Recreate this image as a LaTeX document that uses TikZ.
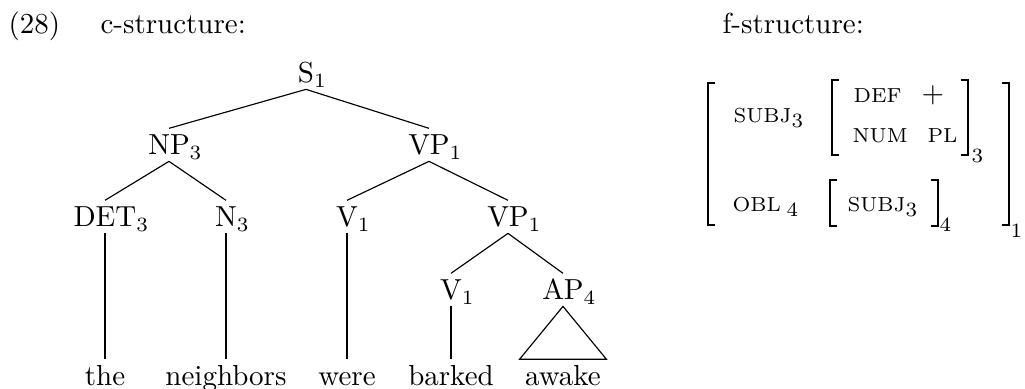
\documentclass[tikz,border=0pt]{standalone}
\newcommand{\att}[1]{{\scriptsize #1}}
\newcommand{\fsopen}[3]{\draw[brk] (#1+7,#2) -- (#1,#2) -- (#1,#3) -- (#1+7,#3);}
\newcommand{\fsclose}[3]{\draw[brk] (#1-7,#2) -- (#1,#2) -- (#1,#3) -- (#1-7,#3);}
\begin{document}
\begin{tikzpicture}[x=0.345pt,y=-0.345pt,
    cat/.style={anchor=base,inner sep=2pt,text height=7pt,text depth=0pt},
    fnode/.style={anchor=base west,inner sep=0pt},
    brk/.style={line width=0.6pt}]
  \useasboundingbox (0,0) rectangle (1025,389);
  % headings
  \node[fnode] (ex) at (8,34) {(28)};
  \node[fnode] (chead) at (100,34) {c-structure:};
  \node[fnode] (fhead) at (722,34) {f-structure:};
  % c-structure
  \node[cat] (s) at (306,83) {S\rlap{$_1$}};
  \node[cat] (np) at (169,155) {NP\rlap{$_3$}};
  \node[cat] (vp) at (429,155) {VP\rlap{$_1$}};
  \node[cat] (det) at (105,227) {DET\rlap{$_3$}};
  \node[cat] (n) at (226,227) {N\rlap{$_3$}};
  \node[cat] (v) at (347,227) {V\rlap{$_1$}};
  \node[cat] (vpb) at (508,227) {VP\rlap{$_1$}};
  \node[cat] (vb) at (451,300) {V\rlap{$_1$}};
  \node[cat] (ap) at (563,300) {AP\rlap{$_4$}};
  \foreach \w/\x/\nm in {the/105/the,neighbors/226/nbr,were/347/were,barked/451/bark,awake/563/awake}
    \node[cat] (\nm) at (\x,386) {\w};
  \foreach \a/\b in {s/np,s/vp,np/det,np/n,vp/v,vp/vpb,vpb/vb,vpb/ap,det/the,n/nbr,v/were,vb/bark}
    \draw (\a.south) -- (\b.north);
  \draw (ap.south) -- ([xshift=-15pt]awake.north) -- ([xshift=15pt]awake.north) -- cycle;
  % f-structure
  \node[fnode] (subj) at (733,123) {\att{SUBJ}$_3$};
  \node[fnode] (def) at (853,103) {\att{DEF}};
  \node[fnode] (plus) at (921,103) {$+$};
  \node[fnode] (num) at (852,143) {\att{NUM}};
  \node[fnode] (pl) at (927,143) {\att{PL}};
  \node[fnode] (obl) at (732,212) {\att{OBL}\hspace{2pt}$_4$};
  \node[fnode] (isubj) at (847,212) {\att{SUBJ}$_3$};
  \fsopen{708}{83}{225}
  \fsclose{1009}{83}{225}
  \fsopen{832}{80}{155}
  \fsclose{968}{80}{155}
  \fsopen{830}{180}{226}
  \fsclose{938}{180}{226}
  \node[fnode] (sub1) at (1010,238) {$\scriptstyle 1$};
  \node[fnode] (sub3) at (971,163) {$\scriptstyle 3$};
  \node[fnode] (sub4) at (939,232) {$\scriptstyle 4$};
\end{tikzpicture}
\end{document}
